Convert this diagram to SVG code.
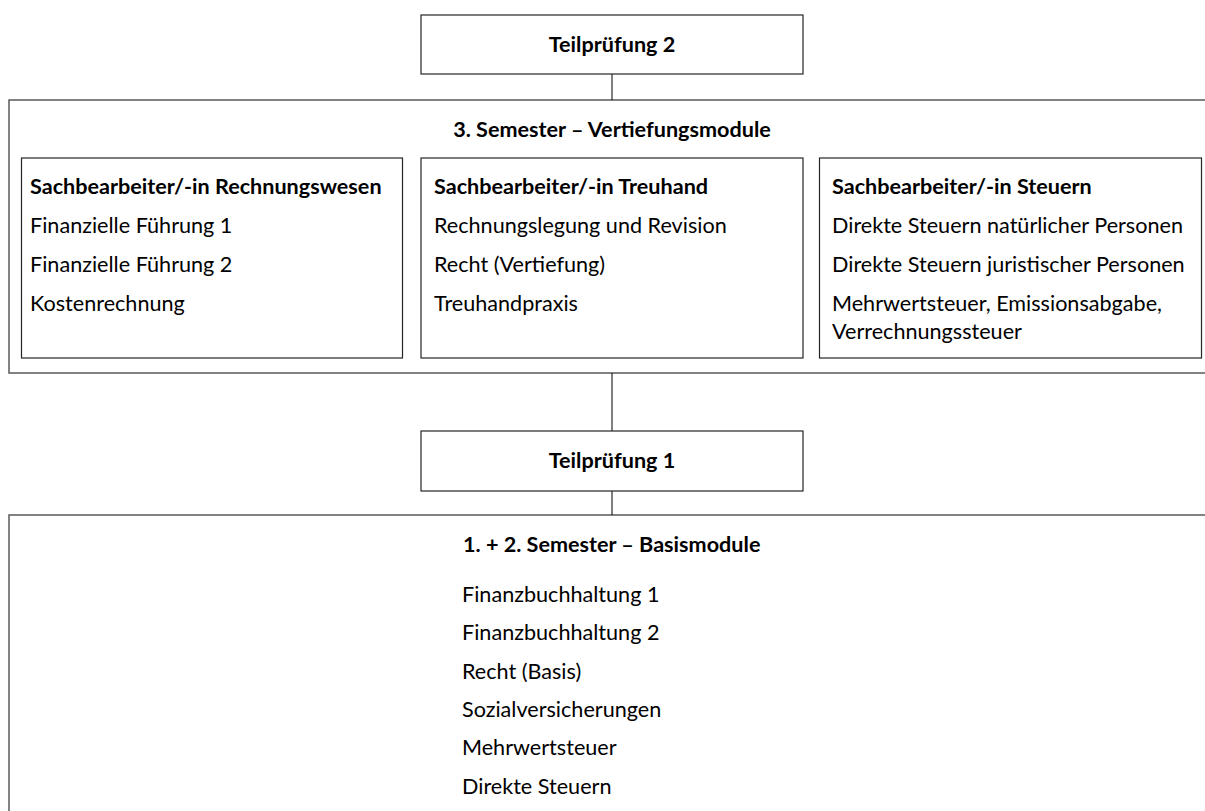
<svg xmlns="http://www.w3.org/2000/svg" width="1205" height="811" viewBox="0 0 1205 811">
<style>
  .outer { fill: #ffffff; stroke: #595959; stroke-width: 1.5; }
  .box { fill: #ffffff; stroke: #262626; stroke-width: 1.2; }
  .conn { stroke: #000000; stroke-width: 1; fill: none; }
  text { font-family: Lato, "Open Sans", "Liberation Sans", sans-serif; font-size: 21.6px; fill: #000000; }
  .b { font-weight: bold; }
  .c { text-anchor: middle; }
</style>
<rect width="1205" height="811" fill="#ffffff"/>
<g id="sem3">
  <rect class="outer" x="9" y="100" width="1210" height="273"/>
  <text class="b c" x="612" y="137">3. Semester – Vertiefungsmodule</text>
</g>
<g id="rechnungswesen">
  <rect class="box" x="21.5" y="158" width="381" height="200"/>
  <text class="b" x="30" y="194">Sachbearbeiter/-in Rechnungswesen</text>
  <text x="30" y="233">Finanzielle Führung 1</text>
  <text x="30" y="272">Finanzielle Führung 2</text>
  <text x="30" y="311">Kostenrechnung</text>
</g>
<g id="treuhand">
  <rect class="box" x="421" y="158" width="382" height="200"/>
  <text class="b" x="434" y="194">Sachbearbeiter/-in Treuhand</text>
  <text x="434" y="233">Rechnungslegung und Revision</text>
  <text x="434" y="272">Recht (Vertiefung)</text>
  <text x="434" y="311">Treuhandpraxis</text>
</g>
<g id="steuern">
  <rect class="box" x="819.5" y="158" width="382" height="200"/>
  <text class="b" x="832" y="194">Sachbearbeiter/-in Steuern</text>
  <text x="832" y="233">Direkte Steuern natürlicher Personen</text>
  <text x="832" y="272">Direkte Steuern juristischer Personen</text>
  <text x="832" y="311">Mehrwertsteuer, Emissionsabgabe,</text>
  <text x="832" y="339">Verrechnungssteuer</text>
</g>
<g id="basis">
  <rect class="outer" x="9" y="515" width="1210" height="310"/>
  <text class="b" x="463" y="552">1. + 2. Semester – Basismodule</text>
  <text x="462" y="602">Finanzbuchhaltung 1</text>
  <text x="462" y="640">Finanzbuchhaltung 2</text>
  <text x="462" y="679">Recht (Basis)</text>
  <text x="462" y="717">Sozialversicherungen</text>
  <text x="462" y="755">Mehrwertsteuer</text>
  <text x="462" y="794">Direkte Steuern</text>
</g>
<g id="connectors">
  <line class="conn" x1="612" y1="74" x2="612" y2="100"/>
  <line class="conn" x1="612" y1="373" x2="612" y2="431"/>
  <line class="conn" x1="612" y1="491" x2="612" y2="515"/>
</g>
<g id="tp2">
  <rect class="box" x="421" y="15" width="382" height="59"/>
  <text class="b c" x="612" y="52">Teilprüfung 2</text>
</g>
<g id="tp1">
  <rect class="box" x="421" y="431" width="382" height="60"/>
  <text class="b c" x="612" y="468">Teilprüfung 1</text>
</g>
</svg>
